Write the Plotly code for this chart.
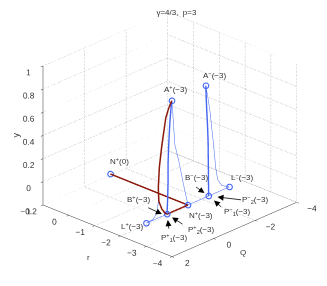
import plotly.graph_objects as go

R_TICKS = [-4, -3, -2, -1, 0, 1]
Q_TICKS = [-4, -2, 0, 2]
Y_TICKS = [-0.2, 0, 0.2, 0.4, 0.6, 0.8, 1]

R_PLANE = -3
N0 = (0, 0, 0)
BASE_Q = [2, 1, 0, -1, -2]
RED_Q = [0, 1, 1.106, 1.25, 1.394, 1.42, 1.37, 1.25, 1.06, 0.913, 0.77]
RED_Y = [0, 0, 0.019, 0.063, 0.14, 0.26, 0.434, 0.612, 0.836, 0.911, 0.961]
P1_CENTER_Q = [1, 0.97, 0.95, 0.95, 0.92, 0.865, 0.82, 0.77]
P1_CENTER_Y = [0, 0.14, 0.277, 0.44, 0.59, 0.781, 0.88, 0.961]
PLUS_RIGHT_Q = [0, 0.048, 0.192, 0.433, 0.625, 0.697, 0.73, 0.77]
PLUS_RIGHT_Y = [0, 0.051, 0.179, 0.414, 0.571, 0.77, 0.87, 0.961]
PLUS_LEFT_Q = [2, 1.68, 1.49, 1.42]
PLUS_LEFT_Y = [0, 0.007, 0.045, 0.14]
MINUS_CENTER_Q = [-1, -0.99, -0.976, -0.95, -0.91, -0.885, -0.865]
MINUS_CENTER_Y = [0, 0.23, 0.465, 0.61, 0.748, 0.86, 0.963]
MINUS_RIGHT_Q = [-2, -1.635, -1.44, -1.346, -1.226, -1.058, -0.96, -0.865]
MINUS_RIGHT_Y = [0, 0.041, 0.105, 0.212, 0.448, 0.738, 0.86, 0.963]
MARK_Q = [2, 1, -1, -2, 0.77, -0.865, 0]
MARK_Y = [0, 0, 0, 0, 0.961, 0.963, 0]

BLUE = "#4466f0"
RED = "#8c1a0c"
GRID = "#8c8c8c"
TXT = "#333333"
FONT = "Liberation Sans"


def line3(q, y, color=BLUE, width=1.0, r=R_PLANE):
    return go.Scatter3d(x=[r] * len(q), y=q, z=y, mode="lines",
                        line=dict(color=color, width=width, dash="solid"),
                        hoverinfo="skip", showlegend=False)


fig = go.Figure()
rmin, rmax, qmin, qmax, ymin, ymax = -4, 1, -4, 2, -0.2, 1
for t in R_TICKS:
    fig.add_trace(go.Scatter3d(x=[t, t, t], y=[qmax, qmin, qmin], z=[ymin, ymin, ymax], mode="lines",
                               line=dict(color=GRID, width=1, dash="dot"), hoverinfo="skip", showlegend=False))
for t in Q_TICKS:
    fig.add_trace(go.Scatter3d(x=[rmin, rmax, rmax], y=[t, t, t], z=[ymin, ymin, ymax], mode="lines",
                               line=dict(color=GRID, width=1, dash="dot"), hoverinfo="skip", showlegend=False))
for t in Y_TICKS:
    fig.add_trace(go.Scatter3d(x=[rmax, rmax, rmin], y=[qmax, qmin, qmin], z=[t, t, t], mode="lines",
                               line=dict(color=GRID, width=1, dash="dot"), hoverinfo="skip", showlegend=False))

fig.add_trace(line3(BASE_Q, [0] * len(BASE_Q)))
fig.add_trace(line3(P1_CENTER_Q, P1_CENTER_Y, width=2.8))
fig.add_trace(line3(PLUS_RIGHT_Q, PLUS_RIGHT_Y))
fig.add_trace(line3(PLUS_LEFT_Q, PLUS_LEFT_Y))
fig.add_trace(line3(MINUS_CENTER_Q, MINUS_CENTER_Y, width=2.8))
fig.add_trace(line3(MINUS_RIGHT_Q, MINUS_RIGHT_Y))
fig.add_trace(line3(RED_Q, RED_Y, color=RED, width=3))
fig.add_trace(go.Scatter3d(x=[N0[0], R_PLANE], y=[N0[1], 0], z=[N0[2], 0], mode="lines",
                           line=dict(color=RED, width=3), hoverinfo="skip", showlegend=False))
fig.add_trace(go.Scatter3d(x=[R_PLANE] * len(MARK_Q) + [N0[0]], y=MARK_Q + [N0[1]], z=MARK_Y + [N0[2]],
                           mode="markers",
                           marker=dict(symbol="circle-open", size=3.5, color=BLUE, line=dict(color=BLUE, width=1)),
                           hoverinfo="skip", showlegend=False))


def label(text, x, y, z, dx, dy):
    return dict(x=x, y=y, z=z, text=text, showarrow=False, xshift=dx, yshift=-dy,
                font=dict(size=8, color=TXT, family=FONT))


def arrow(x, y, z, ax, ay, standoff):
    return dict(x=x, y=y, z=z, text="", showarrow=True, ax=ax, ay=ay, arrowhead=2, arrowsize=1.5,
                arrowwidth=0.8, arrowcolor="black", standoff=standoff)


annotations = [
    label("A<sup>+</sup>(−3)", -3, 0.77, 0.961, 4, -12),
    label("A<sup>−</sup>(−3)", -3, -0.865, 0.963, 9, -11),
    label("N<sup>+</sup>(0)", 0, 0, 0, 9, -13),
    label("B<sup>−</sup>(−3)", -3, -1, 0, -12, -19),
    label("L<sup>−</sup>(−3)", -3, -2, 0, 13, -10),
    label("P<sup>−</sup><sub>2</sub>(−3)", -3, -1, 0, 47, 4),
    label("P<sup>−</sup><sub>1</sub>(−3)", -3, -1, 0, 29, 16),
    label("N<sup>+</sup>(−3)", -3, 0, 0, 13, 10),
    label("P<sup>+</sup><sub>2</sub>(−3)", -3, 1, 0, 34, 15),
    label("P<sup>+</sup><sub>1</sub>(−3)", -3, 1, 0, 7, 23),
    label("L<sup>+</sup>(−3)", -3, 2, 0, -14, 3),
    label("B<sup>+</sup>(−3)", -3, 1, 0, -29, -15),
    arrow(-3, 1, 0, 2, 16, 6),
    arrow(-3, 1, 0, 17, 11, 6),
    arrow(-3, 1.25, 0.02, -15, -7, 0),
    arrow(-3, -1, 0, -14, -10, 5),
    arrow(-3, -1, 0, 14, 12, 7),
    arrow(-3, -1, 0, 34, 4, 9),
    label("r", -1.5, 2, -0.2, -19, 27),
    label("Q", -4, -1, -0.2, 9, 23),
    dict(x=1, y=2, z=0.4, text="y", showarrow=False, xshift=-27, textangle=-90,
         font=dict(size=9, color=TXT, family=FONT)),
]


def axis(tickvals, rng):
    return dict(range=rng, tickvals=tickvals, showgrid=False, zeroline=False, showbackground=False,
                showline=True, linecolor="#333333", linewidth=1, ticks="outside", ticklen=3, tickangle=0,
                tickcolor="#333333", tickfont=dict(size=10, color=TXT, family=FONT), title=dict(text=""),
                showspikes=False)


fig.update_layout(
    width=327, height=286, margin=dict(l=0, r=0, t=0, b=0), paper_bgcolor="white",
    title=dict(text="γ=4/3,  p=3", x=0.515, xanchor="center", y=0.996, yanchor="top",
               font=dict(size=8, color=TXT, family=FONT)),
    scene=dict(
        xaxis=axis(R_TICKS, [rmin, rmax]), yaxis=axis(Q_TICKS, [qmin, qmax]), zaxis=axis(Y_TICKS, [ymin, ymax]),
        aspectmode="manual", aspectratio=dict(x=1.25, y=1.26, z=1.07),
        camera=dict(projection=dict(type="orthographic"), eye=dict(x=-1.3, y=1.34, z=0.73),
                    center=dict(x=-0.008, y=-0.008, z=-0.13), up=dict(x=0, y=0, z=1)),
        annotations=annotations,
        domain=dict(x=[0, 1], y=[0, 1]),
    ),
)
fig.write_html("out.html")
